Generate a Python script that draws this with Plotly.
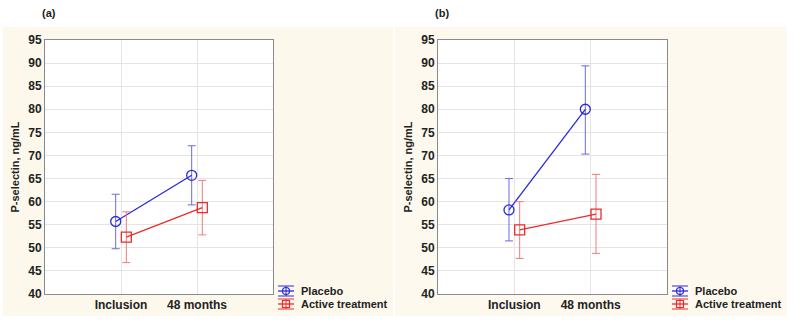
import plotly.graph_objects as go

categories = ["Inclusion", "48 months"]
cat_pos = [1, 2]
offset = 0.07

# Panel (a)
a_placebo = [55.7, 65.7]
a_placebo_hi = [61.6, 72.1]
a_placebo_lo = [49.8, 59.3]
a_active = [52.3, 58.7]
a_active_hi = [57.8, 64.6]
a_active_lo = [46.8, 52.8]

# Panel (b)
b_placebo = [58.2, 80.0]
b_placebo_hi = [65.0, 89.4]
b_placebo_lo = [51.5, 70.3]
b_active = [53.9, 57.3]
b_active_hi = [60.0, 65.9]
b_active_lo = [47.7, 48.8]

yticks = [40, 45, 50, 55, 60, 65, 70, 75, 80, 85, 90, 95]
series_names = ["Placebo", "Active treatment"]

W, H = 796, 320
FONT = "Liberation Sans, Arial, sans-serif"
TXT = "#222222"
BLUE = "#2a2ad8"
BLUE_E = "#6a6ae6"
RED = "#ec2a2a"
RED_E = "#f07a7a"

fig = go.Figure()

def add_series(vals, hi, lo, dx, name, color, ecolor, symbol, size, xa, ya):
    xs = [p + dx for p in cat_pos]
    fig.add_trace(go.Scatter(
        x=xs, y=vals, name=name, mode="lines+markers",
        line=dict(color=color, width=1.3),
        marker=dict(symbol=symbol, size=size, color=color, line=dict(width=1.3, color=color)),
        error_y=dict(type="data", symmetric=False,
                     array=[h - v for h, v in zip(hi, vals)],
                     arrayminus=[v - l for v, l in zip(vals, lo)],
                     color=ecolor, thickness=1, width=4),
        xaxis=xa, yaxis=ya, showlegend=False,
    ))

add_series(a_placebo, a_placebo_hi, a_placebo_lo, -offset, series_names[0], BLUE, BLUE_E, "circle-open", 10, "x", "y")
add_series(a_active, a_active_hi, a_active_lo, offset, series_names[1], RED, RED_E, "square-open", 10, "x", "y")
add_series(b_placebo, b_placebo_hi, b_placebo_lo, -offset, series_names[0], BLUE, BLUE_E, "circle-open", 10, "x2", "y2")
add_series(b_active, b_active_hi, b_active_lo, offset, series_names[1], RED, RED_E, "square-open", 10, "x2", "y2")

def px_x(v):
    return v / W

def px_y(v):
    return 1 - v / H

xaxis_common = dict(range=[0, 3], tickvals=cat_pos, ticktext=[f"<b>{c}</b>" for c in categories],
                    showgrid=True, gridcolor="#e4e4e4", gridwidth=1,
                    showline=True, linecolor="#8a8a8a", linewidth=1, mirror=True,
                    zeroline=False, ticks="", automargin=False,
                    tickfont=dict(family=FONT, size=12, color=TXT))
yaxis_common = dict(range=[40, 95], tickvals=yticks, ticktext=[f"<b>{t}</b>" for t in yticks],
                    showgrid=True, gridcolor="#e4e4e4", gridwidth=1,
                    showline=True, linecolor="#8a8a8a", linewidth=1, mirror=True,
                    zeroline=False, ticks="", automargin=False,
                    tickfont=dict(family=FONT, size=12, color=TXT),
                    title=dict(text="<b>P-selectin, ng/mL</b>", standoff=6,
                               font=dict(family=FONT, size=11, color=TXT)))

shapes = [
    dict(type="rect", xref="paper", yref="paper", layer="below",
         x0=px_x(3), x1=px_x(393), y0=px_y(316), y1=px_y(27),
         fillcolor="#fdf8ec", line=dict(width=0)),
    dict(type="rect", xref="paper", yref="paper", layer="below",
         x0=px_x(395), x1=px_x(787), y0=px_y(316), y1=px_y(27),
         fillcolor="#fdf9ee", line=dict(width=0)),
]
for xr, yr in (("x", "y"), ("x2", "y2")):
    shapes.append(dict(type="rect", xref=f"{xr} domain", yref=f"{yr} domain", layer="below",
                       x0=0, x1=1, y0=0, y1=1, fillcolor="white", line=dict(width=0)))

annotations = [
    dict(text="<b>(a)</b>", xref="paper", yref="paper", x=px_x(40), y=px_y(13),
         xanchor="left", yanchor="middle", showarrow=False,
         font=dict(family=FONT, size=11, color=TXT)),
    dict(text="<b>(b)</b>", xref="paper", yref="paper", x=px_x(433), y=px_y(13),
         xanchor="left", yanchor="middle", showarrow=False,
         font=dict(family=FONT, size=11, color=TXT)),
]

# Custom legends (icon: line + marker + error-bar caps)
ICON_W = 16
def legend_icon(x0, yc, color, kind):
    s = []
    ln = dict(color=color, width=1)
    for dy in (-5, 5):
        s.append(dict(type="line", xref="paper", yref="paper", x0=px_x(x0), x1=px_x(x0 + ICON_W),
                      y0=px_y(yc + dy), y1=px_y(yc + dy), line=ln))
    s.append(dict(type="line", xref="paper", yref="paper", x0=px_x(x0 + ICON_W / 2), x1=px_x(x0 + ICON_W / 2),
                  y0=px_y(yc - 5), y1=px_y(yc + 5), line=ln))
    s.append(dict(type="line", xref="paper", yref="paper", x0=px_x(x0), x1=px_x(x0 + ICON_W),
                  y0=px_y(yc), y1=px_y(yc), line=dict(color=color, width=1.3)))
    stype = "circle" if kind == "circle" else "rect"
    c = x0 + ICON_W / 2
    s.append(dict(type=stype, xref="paper", yref="paper", x0=px_x(c - 3.5), x1=px_x(c + 3.5),
                  y0=px_y(yc + 3.5), y1=px_y(yc - 3.5), line=dict(color=color, width=1.2)))
    return s

for lx in (278, 672):
    shapes += legend_icon(lx, 291, BLUE, "circle")
    shapes += legend_icon(lx, 304, RED, "square")
    annotations.append(dict(text=f"<b>{series_names[0]}</b>", xref="paper", yref="paper",
                            x=px_x(lx + 21), y=px_y(291), xanchor="left", yanchor="middle",
                            showarrow=False, font=dict(family=FONT, size=11, color=TXT)))
    annotations.append(dict(text=f"<b>{series_names[1]}</b>", xref="paper", yref="paper",
                            x=px_x(lx + 21), y=px_y(304), xanchor="left", yanchor="middle",
                            showarrow=False, font=dict(family=FONT, size=11, color=TXT)))

fig.update_layout(
    width=W, height=H,
    margin=dict(l=0, r=0, t=0, b=0),
    paper_bgcolor="white", plot_bgcolor="white",
    showlegend=False,
    xaxis=dict(domain=[px_x(45), px_x(273)], anchor="y", **xaxis_common),
    yaxis=dict(domain=[px_y(294), px_y(40)], anchor="x", **yaxis_common),
    xaxis2=dict(domain=[px_x(438), px_x(667)], anchor="y2", **xaxis_common),
    yaxis2=dict(domain=[px_y(294), px_y(40)], anchor="x2", **yaxis_common),
    shapes=shapes,
    annotations=annotations,
)

fig.write_html("out.html", config={"displayModeBar": False},
               post_script="document.body.style.margin='0';document.body.style.overflow='hidden';")
